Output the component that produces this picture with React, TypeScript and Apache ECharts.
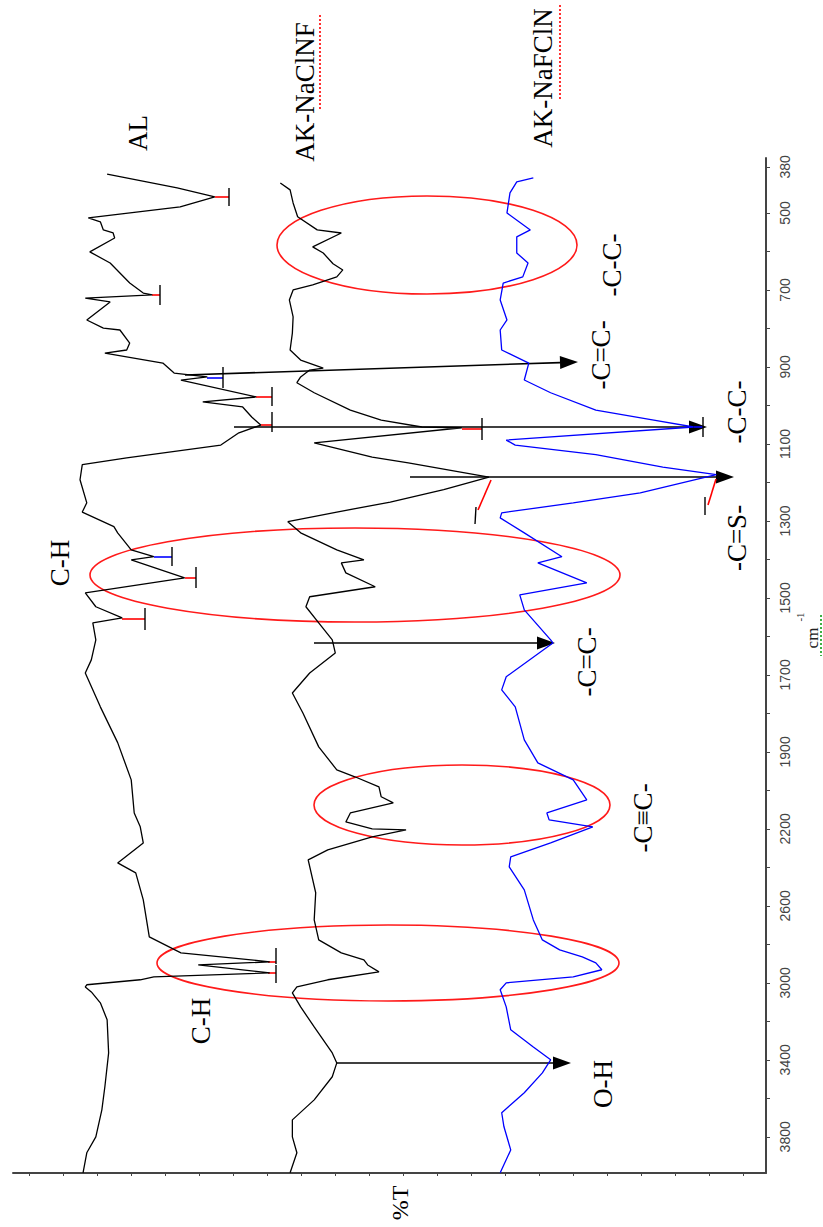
import React, { useEffect, useRef } from "react";
import * as echarts from "echarts";

// Wavenumber axis: labelled ticks (the original axis is piecewise linear, one slot per label)
const tickWavenumbers = [380, 500, 700, 900, 1100, 1300, 1500, 1700, 1900, 2200, 2600, 3000, 3400, 3800, 4000];
const tickSlots = [-0.6, 0, 1, 2, 3, 4, 5, 6, 7, 8, 9, 10, 11, 12, 12.5];
const labelledWavenumbers = [380, 500, 700, 900, 1100, 1300, 1500, 1700, 1900, 2200, 2600, 3000, 3400, 3800];

// AL
const alWn = [399,435,458,484,513,523,544,552,565,601,630,682,708,713,721,731,778,799,804,838,856,864,890,916,926,934,978,991,1004,1030,1051,1071,1103,1136,1154,1193,1253,1277,1315,1331,1375,1393,1401,1448,1487,1523,1552,1565,1609,1661,1695,1783,1876,2009,2138,2192,2273,2377,2429,2569,2761,2844,2891,2907,2948,2969,2984,3010,3021,3047,3104,3192,3364,3540,3660,3800,3883,3987];
const alT = [87.5,78.2,73.2,77.8,90.0,88.4,88.0,86.7,86.5,89.8,87.1,84.5,82.7,81.5,90.4,87.1,90.2,88.0,85.8,84.5,84.9,87.8,80.1,78.6,74.2,77.7,67.7,74.8,69.5,68.3,67.1,70.0,72.4,84.9,90.8,91.1,90.2,90.8,86.6,86.1,84.3,81.3,84.3,77.2,90.4,89.0,85.5,89.4,89.0,89.6,90.4,88.4,86.1,84.3,83.9,83.1,82.7,86.1,83.7,82.7,81.9,77.7,65.9,75.4,65.9,81.3,83.1,90.2,90.4,89.6,88.4,87.5,87.3,87.8,88.2,89.0,90.2,90.7];

// AK-NaClNF
const nacWn = [422,440,474,510,544,552,588,604,632,648,666,687,700,726,770,812,856,882,903,908,926,941,967,1012,1038,1056,1058,1097,1134,1149,1186,1219,1251,1277,1302,1331,1375,1401,1409,1435,1471,1497,1523,1565,1609,1643,1695,1747,1799,1887,1970,1997,2036,2075,2099,2138,2173,2200,2205,2242,2309,2361,2532,2673,2777,2844,2881,2907,2943,2984,3021,3052,3125,3229,3364,3416,3488,3608,3712,3800,3883,3987];
const nacT = [64.5,63.2,62.8,62.2,59.6,56.4,60.2,58.8,57.5,56.2,57.0,60.2,62.8,63.3,62.8,62.9,63.2,61.8,58.8,60.6,61.8,62.3,60.0,55.2,51.1,45.7,40.4,60.0,52.3,47.5,36.8,42.8,49.9,57.0,63.5,61.8,57.0,53.4,56.4,55.8,51.9,60.6,61.1,59.4,57.6,57.2,60.6,62.9,61.5,59.4,57.0,54.6,51.4,51.1,49.5,55.2,55.8,52.3,47.8,52.3,58.2,60.8,59.8,60.0,59.4,56.4,53.4,52.9,51.4,58.2,62.3,62.9,61.8,60.0,57.6,57.0,57.6,60.0,62.9,62.9,62.3,63.2];

// AK-NaFClN
const nafWn = [409,419,448,500,544,562,604,630,666,682,726,778,804,856,890,934,967,1012,1038,1056,1090,1103,1128,1160,1180,1227,1253,1279,1292,1331,1393,1409,1461,1492,1531,1609,1617,1705,1739,1783,1869,1943,2009,2087,2138,2165,2192,2273,2345,2397,2517,2673,2777,2829,2865,2896,2932,2969,3000,3036,3125,3244,3333,3400,3468,3571,3675,3748,3868,3987];
const nafT = [30.9,33.1,34.0,34.4,31.3,33.1,33.1,31.6,32.3,34.9,35.3,34.4,35.3,35.1,31.5,32.1,28.6,22.6,14.9,9.6,34.5,33.3,22.6,13.7,6.6,16.7,25.6,35.1,35.3,32.1,27.1,30.3,23.8,32.7,32.1,28.6,28.3,34.5,35.1,33.3,32.1,30.3,25.6,23.8,29.1,28.8,23.0,28.6,33.9,34.1,32.1,30.9,29.7,27.4,24.4,22.6,21.8,25.6,34.5,35.3,34.5,33.9,30.9,28.6,29.7,32.1,35.1,34.8,33.9,35.3];

function wnToSlot(wn: number): number {
  const bw = tickWavenumbers;
  const bp = tickSlots;
  if (wn <= bw[0]) return bp[0] + ((wn - bw[0]) / (bw[1] - bw[0])) * (bp[1] - bp[0]);
  for (let i = 0; i < bw.length - 1; i++) {
    if (wn <= bw[i + 1]) return bp[i] + ((wn - bw[i]) / (bw[i + 1] - bw[i])) * (bp[i + 1] - bp[i]);
  }
  const n = bw.length - 1;
  return bp[n] + ((wn - bw[n]) / (bw[n] - bw[n - 1])) * (bp[n] - bp[n - 1]);
}

const SERIF = "Liberation Serif";

function vText(text: string, x: number, y: number, size = 27, color = "#000") {
  return {
    type: "text",
    x,
    y,
    rotation: Math.PI / 2,
    silent: true,
    style: { text, fill: color, fontFamily: SERIF, fontSize: size, textAlign: "center", textVerticalAlign: "middle" },
  };
}

function arrow(x1: number, y1: number, x2: number, y2: number) {
  const L = 18, W = 6.5;
  const dx = x2 - x1, dy = y2 - y1;
  const len = Math.sqrt(dx * dx + dy * dy);
  const ux = dx / len, uy = dy / len;
  const bx = x2 - ux * L, by = y2 - uy * L;
  return [
    { type: "line", silent: true, shape: { x1, y1, x2: bx, y2: by }, style: { stroke: "#000", lineWidth: 1.6 } },
    {
      type: "polygon",
      silent: true,
      shape: { points: [[x2, y2], [bx - uy * W, by + ux * W], [bx + uy * W, by - ux * W]] },
      style: { fill: "#000" },
    },
  ];
}

function marker(cx: number, y: number, bx: number, top: number, bottom: number, color: string) {
  return [
    { type: "line", silent: true, shape: { x1: cx, y1: y, x2: bx, y2: y }, style: { stroke: color, lineWidth: 1.6 } },
    { type: "line", silent: true, shape: { x1: bx, y1: top, x2: bx, y2: bottom }, style: { stroke: "#000", lineWidth: 1.4 } },
  ];
}

function ellipse(cx: number, cy: number, rx: number, ry: number) {
  return { type: "ellipse", silent: true, shape: { cx, cy, rx, ry }, style: { fill: "none", stroke: "#ff1a1a", lineWidth: 1.6 } };
}

export default function App() {
  const ref = useRef<HTMLDivElement>(null);
  useEffect(() => {
    const chart = echarts.init(ref.current!, null, { renderer: "svg" });
    const slotTicks: number[] = [-0.6];
    for (let v = 0; v <= 12.001; v += 0.5) slotTicks.push(Math.round(v * 10) / 10);
    const tTicks: number[] = [];
    for (let k = 0; k < 22; k++) tTicks.push(3.05 + 4.515 * k);
    const labelSlots = labelledWavenumbers.map(wnToSlot);

    const mk = (wn: number[], t: number[]) => wn.map((w, i) => [t[i], wnToSlot(w)]);

    const graphics: any[] = [
      vText("AL", 138, 133),
      vText("AK-NaClNF", 305, 92),
      vText("AK-NaFClN", 543, 78),
      vText("C-H", 60, 563),
      vText("C-H", 201, 1021),
      vText("O-H", 603, 1084),
      vText("-C≡C-", 643, 818),
      vText("-C=C-", 587, 662),
      vText("-C=C-", 601, 355),
      vText("-C-C-", 737, 412),
      vText("-C=S-", 737, 538),
      vText("-C-C-", 612, 265),
      vText("%T", 400, 1203, 24),
      vText("cm", 812, 638, 17, "#222"),
      vText("-1", 800, 617, 11, "#222"),
      { type: "line", silent: true, shape: { x1: 320, y1: 15, x2: 320, y2: 110 }, style: { stroke: "#ff3030", lineWidth: 2, lineDash: [2, 2] } },
      { type: "line", silent: true, shape: { x1: 560, y1: 5, x2: 560, y2: 100 }, style: { stroke: "#ff3030", lineWidth: 2, lineDash: [2, 2] } },
      { type: "line", silent: true, shape: { x1: 821, y1: 615, x2: 821, y2: 656 }, style: { stroke: "#3cb043", lineWidth: 2, lineDash: [2, 2] } },
      ellipse(427, 245, 150, 49),
      ellipse(355, 575, 265, 47),
      ellipse(462, 805, 148, 40),
      ellipse(388, 963, 231, 38),
      ...arrow(185, 375, 578, 362),
      ...arrow(234, 427, 707, 427),
      ...arrow(410, 477, 734, 477),
      ...arrow(314, 643, 555, 643),
      ...arrow(337, 1063, 571, 1063),
      ...marker(215, 197, 229, 188, 206, "#ff0000"),
      ...marker(152, 295, 160, 285, 305, "#ff0000"),
      ...marker(207, 378, 223, 367, 388, "#0000ff"),
      ...marker(256, 397, 272, 387, 406, "#ff0000"),
      ...marker(261, 425, 272, 412, 432, "#ff0000"),
      ...marker(462, 429, 482, 418, 440, "#ff0000"),
      ...marker(694, 427, 703, 417, 437, "#0000ff"),
      ...marker(154, 557, 172, 547, 566, "#0000ff"),
      ...marker(185, 578, 196, 567, 588, "#ff0000"),
      ...marker(122, 619, 145, 608, 630, "#ff0000"),
      ...marker(268, 962, 276, 948, 964, "#ff0000"),
      ...marker(268, 973, 276, 965, 983, "#ff0000"),
      { type: "line", silent: true, shape: { x1: 491, y1: 480, x2: 478, y2: 510 }, style: { stroke: "#ff0000", lineWidth: 1.6 } },
      { type: "line", silent: true, shape: { x1: 476, y1: 507, x2: 475, y2: 524 }, style: { stroke: "#000", lineWidth: 1.4 } },
      { type: "line", silent: true, shape: { x1: 716, y1: 479, x2: 708, y2: 505 }, style: { stroke: "#ff0000", lineWidth: 1.6 } },
      { type: "line", silent: true, shape: { x1: 705, y1: 497, x2: 705, y2: 515 }, style: { stroke: "#000", lineWidth: 1.4 } },
    ];

    chart.setOption({
      animation: false,
      backgroundColor: "#fff",
      grid: { left: 13, right: 57, top: 158, bottom: 54, containLabel: false },
      xAxis: {
        type: "value",
        min: 0,
        max: 100,
        inverse: true,
        position: "bottom",
        axisLine: { show: true, onZero: false, lineStyle: { color: "#444", width: 2 } },
        axisTick: { show: true, customValues: tTicks, length: 3, lineStyle: { color: "#444", width: 1 } },
        axisLabel: { show: false },
        splitLine: { show: false },
      },
      yAxis: {
        type: "value",
        min: -0.714,
        max: 12.47,
        inverse: true,
        position: "right",
        axisLine: { show: true, onZero: false, lineStyle: { color: "#444", width: 2 } },
        axisTick: { show: true, customValues: slotTicks, length: 4, lineStyle: { color: "#444", width: 1 } },
        axisLabel: {
          show: true,
          customValues: labelSlots,
          rotate: 90,
          margin: 12,
          fontSize: 14,
          color: "#444",
          fontFamily: "Liberation Sans",
          formatter: (v: number) => {
            for (let i = 0; i < labelSlots.length; i++) {
              if (Math.abs(labelSlots[i] - v) < 1e-6) return String(labelledWavenumbers[i]);
            }
            return "";
          },
        },
        splitLine: { show: false },
      },
      series: [
        { name: "AL", type: "line", data: mk(alWn, alT), showSymbol: false, lineStyle: { color: "#000", width: 1.3 }, itemStyle: { color: "#000" } },
        { name: "AK-NaClNF", type: "line", data: mk(nacWn, nacT), showSymbol: false, lineStyle: { color: "#000", width: 1.3 }, itemStyle: { color: "#000" } },
        { name: "AK-NaFClN", type: "line", data: mk(nafWn, nafT), showSymbol: false, lineStyle: { color: "#0000ff", width: 1.3 }, itemStyle: { color: "#0000ff" } },
      ],
      graphic: graphics,
    });
    return () => chart.dispose();
  }, []);
  return <div ref={ref} style={{ position: "fixed", left: 0, top: 0, width: 823, height: 1227, background: "#fff" }} />;
}
